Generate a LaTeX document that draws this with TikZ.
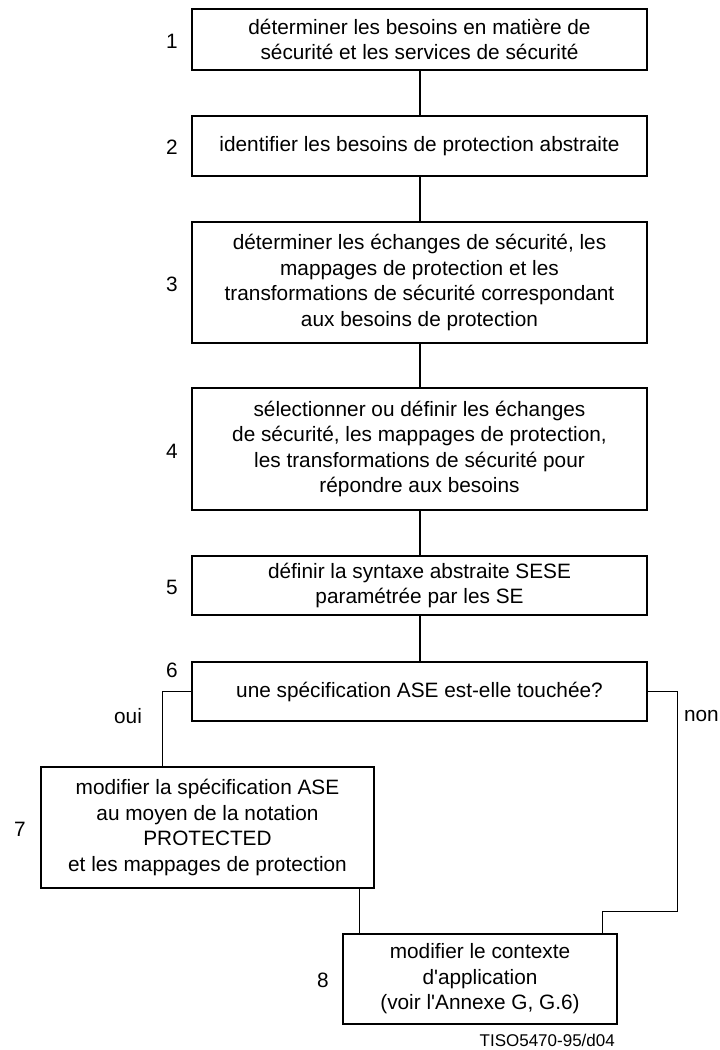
\documentclass[tikz,border=0pt]{standalone}
\usepackage{fontspec}
\setmainfont{Liberation Sans}

\begin{document}
\begin{tikzpicture}
        [x=1pt, y=-1pt, box/.style={draw, line width=1.3pt, align=center, inner sep=0, minimum width=455pt, font=\fontsize{20.8}{25.6}\selectfont}, num/.style={inner sep=0, font=\fontsize{20.8}{25.6}\selectfont}, link/.style={line width=2pt}, branch/.style={line width=1pt}]

        \useasboundingbox (0, 0) rectangle (720, 1050);

        \node[box, minimum height=61pt] (b1) at (419.5, 39.5) {déterminer les besoins en matière de\\sécurité et les services de sécurité};
        \node[box, minimum height=60pt] (b2) at (419.5, 146) {identifier les besoins de protection abstraite};
        \node[box, minimum height=121pt] (b3) at (419.5, 282.5) {déterminer les échanges de sécurité, les\\mappages de protection et les\\transformations de sécurité correspondant\\aux besoins de protection};
        \node[box, minimum height=122pt] (b4) at (419.5, 449) {sélectionner ou définir les échanges\\de sécurité, les mappages de protection,\\les transformations de sécurité pour\\répondre aux besoins};
        \node[box, minimum height=59pt] (b5) at (419.5, 585.5) {définir la syntaxe abstraite SESE\\paramétrée par les SE};
        \node[box, minimum height=59pt] (b6) at (419.5, 691.5) {une spécification ASE est-elle touchée?};
        \node[box, minimum width=333pt, minimum height=121pt] (b7) at (207.5, 827.5) {modifier la spécification ASE\\au moyen de la notation\\PROTECTED\\et les mappages de protection};
        \node[box, minimum width=274pt, minimum height=90pt] (b8) at (480, 979) {modifier le contexte\\d\textquotesingle application\\(voir l\textquotesingle Annexe G, G.6)};

        \node[num] (n1) at (172, 41) {1};
        \node[num] (n2) at (172, 147) {2};
        \node[num] (n3) at (172, 284) {3};
        \node[num] (n4) at (172, 451) {4};
        \node[num] (n5) at (172, 587) {5};
        \node[num] (n6) at (172, 670) {6};
        \node[num] (n7) at (20, 829) {7};
        \node[num] (n8) at (323, 980) {8};

        \node[num] (oui) at (128, 716) {oui};
        \node[num, anchor=east] (non) at (719, 716) {non};
        \node[num, anchor=east, font=\fontsize{17}{20}\selectfont] (ref) at (615, 1040) {TISO5470-95/d04};

        \coordinate (kOui) at (162, 691.5);
        \coordinate (k78) at (359, 0);
        \coordinate (kNon) at (677, 911);
        \coordinate (k8) at (602, 911);

        \draw[link] (b1) -- (b2);
        \draw[link] (b2) -- (b3);
        \draw[link] (b3) -- (b4);
        \draw[link] (b4) -- (b5);
        \draw[link] (b5) -- (b6);
        \draw[branch] (b6.west) -- (kOui) -- (kOui |- b7.north);
        \draw[branch] (b6.east) -| (kNon) -- (k8) -- (k8 |- b8.north);
        \draw[branch] (b7.south -| k78) -- (b8.north -| k78);

      \end{tikzpicture}
\end{document}
